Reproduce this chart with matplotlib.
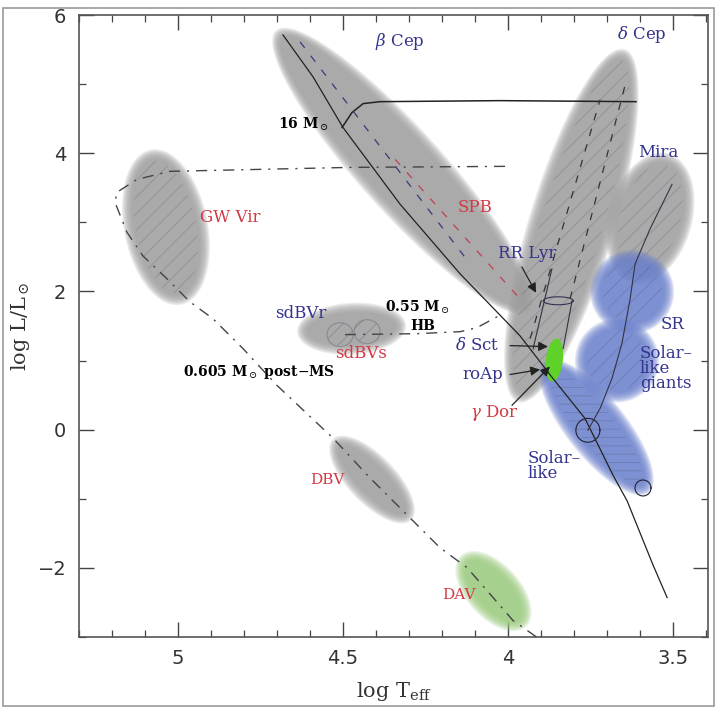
import numpy as np
import matplotlib
matplotlib.use('Agg')
import matplotlib.pyplot as plt
from matplotlib.patches import Polygon, Rectangle

plt.rcParams['mathtext.fontset'] = 'dejavuserif'
plt.rcParams['hatch.linewidth'] = 0.6

# ---------------- data (log Teff, log L/Lsun) ----------------
# pulsator regions: end points of the major axis
region_names = ['beta Cep/SPB', 'Cepheid strip', 'Mira', 'GW Vir', 'sdBV', 'DBV',
                'SR', 'Solar-like giants', 'Solar-like', 'DAV', 'roAp']
region_logT1 = [4.691, 3.964, 3.621, 5.079, 4.621, 4.518, 3.733, 3.779, 3.879, 4.130, 3.852]
region_logL1 = [5.712, 0.481, 2.210, 3.968, 1.418, -0.196, 1.994, 1.000, 0.914, -1.882, 1.317]
region_logT2 = [3.948, 3.652, 3.518, 4.994, 4.327, 4.306, 3.515, 3.561, 3.585, 3.958, 3.867]
region_logL2 = [1.778, 5.424, 3.911, 1.893, 1.504, -1.248, 1.994, 1.000, -0.844, -2.790, 0.697]

# main sequence / lower MS
zams_logT = [4.682, 4.591, 4.500, 4.327, 4.145, 3.964, 3.864, 3.767, 3.682, 3.639, 3.561, 3.518]
zams_logL = [5.712, 5.107, 4.372, 3.262, 2.254, 1.360, 0.741, 0.164, -0.657, -1.032, -1.954, -2.429]

# 16 Msun track
track16_logT = [4.503, 4.473, 4.439, 4.388, 4.024, 3.612]
track16_logL = [4.372, 4.588, 4.718, 4.746, 4.761, 4.746]

# 0.605 Msun post-MS track
postms_logT = [4.009, 4.479, 5.024, 5.124, 5.185, 5.191, 5.155, 5.106, 5.033, 4.964,
               4.894, 4.803, 4.700, 4.530, 4.418, 4.306, 4.206, 4.124, 3.985, 3.912]
postms_logL = [3.810, 3.795, 3.738, 3.622, 3.435, 3.291, 2.859, 2.513, 2.182, 1.850,
               1.605, 1.173, 0.640, -0.124, -0.700, -1.233, -1.709, -1.997, -2.761, -3.006]

# 0.55 Msun HB track
hb_logT = [4.494, 4.276, 4.145, 4.094, 4.033]
hb_logL = [1.375, 1.389, 1.418, 1.476, 1.634]

# red giant branch track
rgb_logT = [3.758, 3.721, 3.685, 3.655, 3.630, 3.615, 3.570, 3.503]
rgb_logL = [-0.009, 0.308, 0.741, 1.245, 1.893, 2.398, 2.902, 3.550]

# dashed tracks inside the regions
cep_dash1_logT = [3.933, 3.721]; cep_dash1_logL = [1.317, 4.775]
cep_dash2_logT = [3.812, 3.645]; cep_dash2_logL = [1.893, 4.991]
bcep_dash_logT = [4.630, 4.115]; bcep_dash_logL = [5.611, 2.398]
spb_dash_logT = [4.342, 3.964];  spb_dash_logL = [3.911, 1.893]
rr_left_logT = [3.867, 3.924];   rr_left_logL = [2.326, 1.173]
rr_right_logT = [3.806, 3.833];  rr_right_logL = [1.865, 1.173]

# labels
label_texts = [r'$\beta$ Cep', r'$\delta$ Cep', r'16 M$_\odot$', 'Mira', 'GW Vir', 'SPB',
               'RR Lyr', 'sdBVr', r'0.55 M$_\odot$', 'HB', 'SR', 'sdBVs', r'$\delta$ Sct',
               r'0.605 M$_\odot$ post$-$MS', 'roAp', 'Solar\u2013\nlike\ngiants',
               r'$\gamma$ Dor', 'Solar\u2013\nlike', 'DBV', 'DAV']
label_logT = [4.403, 3.670, 4.697, 3.606, 4.933, 4.152, 4.030, 4.706, 4.373, 4.297,
              3.539, 4.524, 4.161, 4.985, 4.139, 3.600, 4.115, 3.942, 4.600, 4.200]
label_logL = [5.611, 5.712, 4.415, 4.012, 3.075, 3.219, 2.542, 1.677, 1.775, 1.500,
              1.519, 1.101, 1.216, 0.841, 0.798, 0.885, 0.236, -0.527, -0.729, -2.386]

# arrows (tail -> head)
arrow_tail_logT = [3.958, 3.994, 3.994, 3.988]
arrow_tail_logL = [2.354, 1.216, 0.798, 0.352]
arrow_head_logT = [3.915, 3.879, 3.903, 3.873]
arrow_head_logL = [1.980, 1.202, 0.870, 0.914]

# ---------------- styling ----------------
BLUE_T = '#34348f'
RED_T = '#d23a45'
GRAY = '#9e9e9e'
BLUEF = '#6a80cc'
region_width_px = [72, 74, 72, 72, 40, 36, 72, 72, 48, 42, 17]
region_colors = [GRAY, GRAY, GRAY, GRAY, GRAY, GRAY, BLUEF, BLUEF, BLUEF, '#9acb7e', '#5fd22a']
region_hatch = [None, '//', '//', '//', None, None, '//', '//', '--', None, None]
region_blur = [True] * 10 + [False]
label_colors = [BLUE_T, BLUE_T, 'black', BLUE_T, RED_T, RED_T, BLUE_T, BLUE_T, 'black', 'black',
                BLUE_T, RED_T, BLUE_T, 'black', BLUE_T, BLUE_T, RED_T, BLUE_T, RED_T, RED_T]
label_sizes = [12, 12, 10, 12, 12, 12, 12, 12, 10, 10, 12, 12, 12, 10, 12, 12, 12, 12, 11, 11]

fig = plt.figure(figsize=(7.18, 7.08), dpi=100)
ax = fig.add_axes([0.110, 0.1003, 0.8761, 0.8785])
ax.set_xlim(5.30, 3.394)
ax.set_ylim(-2.96, 6.0)


def ellipse_pts(p1, p2, width_px, margin=0.0, n=160):
    P = ax.transData.transform(np.array([p1, p2]))
    c = P.mean(axis=0)
    d = P[1] - P[0]
    L = np.hypot(*d)
    u = d / L
    v = np.array([-u[1], u[0]])
    t = np.linspace(0, 2 * np.pi, n)
    a = L / 2 + margin
    b = width_px / 2 + margin
    pts = c + np.outer(np.cos(t) * a, u) + np.outer(np.sin(t) * b, v)
    return ax.transData.inverted().transform(pts)


for i in range(len(region_names)):
    p1 = (region_logT1[i], region_logL1[i])
    p2 = (region_logT2[i], region_logL2[i])
    w = region_width_px[i]
    col = region_colors[i]
    z = 1 if col == GRAY else 2
    if region_blur[i]:
        for m in np.linspace(6, -4, 9):
            ax.add_patch(Polygon(ellipse_pts(p1, p2, w, m), closed=True,
                                 facecolor=col, edgecolor='none', alpha=0.2, zorder=z))
    else:
        ax.add_patch(Polygon(ellipse_pts(p1, p2, w), closed=True,
                             facecolor=col, edgecolor='none', zorder=4))
    if region_hatch[i]:
        ax.add_patch(Polygon(ellipse_pts(p1, p2, w, -6), closed=True, facecolor='none',
                             edgecolor=(0.25, 0.25, 0.35, 0.25), lw=0,
                             hatch=region_hatch[i], zorder=z))

# small sub-regions in sdBV box
for c_t, c_l in [(4.509, 1.375), (4.427, 1.418)]:
    P = ax.transData.transform([(c_t, c_l)])[0]
    t = np.linspace(0, 2 * np.pi, 80)
    pts = ax.transData.inverted().transform(np.c_[P[0] + 13 * np.cos(t), P[1] + 12 * np.sin(t)])
    ax.add_patch(Polygon(pts, closed=True, facecolor='none', edgecolor=(0.3, 0.3, 0.4, 0.35),
                         lw=0.8, hatch='//', zorder=2))

# small circles at the base of the red giant branch
for c_t, c_l, r in [(3.758, -0.009, 12), (3.591, -0.844, 8)]:
    P = ax.transData.transform([(c_t, c_l)])[0]
    t = np.linspace(0, 2 * np.pi, 80)
    pts = ax.transData.inverted().transform(np.c_[P[0] + r * np.cos(t), P[1] + r * np.sin(t)])
    ax.plot(pts[:, 0], pts[:, 1], color='#222233', lw=0.8, zorder=5)

# RR Lyr cylinder top
P = ax.transData.transform([(3.848, 1.865)])[0]
t = np.linspace(0, 2 * np.pi, 80)
pts = ax.transData.inverted().transform(np.c_[P[0] + 15 * np.cos(t), P[1] + 4 * np.sin(t)])
ax.plot(pts[:, 0], pts[:, 1], color='#333355', lw=0.8, zorder=5)

# lines
ax.plot(zams_logT, zams_logL, color='#222222', lw=0.9, zorder=5)
ax.plot(track16_logT, track16_logL, color='#222222', lw=1.1, zorder=5)
ax.plot(rgb_logT, rgb_logL, color='#333344', lw=0.8, zorder=5)
ax.plot(postms_logT, postms_logL, color='#444444', lw=1.0, ls=(0, (8, 5, 1.5, 5)), zorder=5)
ax.plot(hb_logT, hb_logL, color='#444444', lw=1.0, ls=(0, (8, 5, 1.5, 5)), zorder=5)
ax.plot(cep_dash1_logT, cep_dash1_logL, color='#333333', lw=0.9, ls=(0, (6, 7)), zorder=5)
ax.plot(cep_dash2_logT, cep_dash2_logL, color='#333333', lw=0.9, ls=(0, (6, 7)), zorder=5)
ax.plot(bcep_dash_logT, bcep_dash_logL, color='#3a3a7a', lw=0.9, ls=(0, (6, 8)), zorder=5)
ax.plot(spb_dash_logT, spb_dash_logL, color='#c04050', lw=0.9, ls=(0, (6, 8)), zorder=5)
ax.plot(rr_left_logT, rr_left_logL, color='#333344', lw=0.8, zorder=5)
ax.plot(rr_right_logT, rr_right_logL, color='#333344', lw=0.8, zorder=5)

for i in range(len(arrow_tail_logT)):
    ax.annotate('', xy=(arrow_head_logT[i], arrow_head_logL[i]),
                xytext=(arrow_tail_logT[i], arrow_tail_logL[i]),
                arrowprops=dict(arrowstyle='-|>', color='#222222', lw=0.9,
                                mutation_scale=14, shrinkA=0, shrinkB=0), zorder=6)

for txt, xt, yl, c, s in zip(label_texts, label_logT, label_logL, label_colors, label_sizes):
    fw = 'bold' if c == 'black' else 'normal'
    ax.text(xt, yl, txt, color=c, fontsize=s, family='DejaVu Serif', ha='left', va='center',
            linespacing=0.85, fontweight=fw, zorder=7)

# axes styling
ax.set_xticks([5, 4.5, 4, 3.5])
ax.set_xticklabels(['5', '4.5', '4', '3.5'])
ax.set_xticks(np.arange(3.4, 5.31, 0.1), minor=True)
ax.set_yticks([-2, 0, 2, 4, 6])
ax.set_yticklabels(['\u22122', '0', '2', '4', '6'])
ax.set_yticks(np.arange(-3, 6.1, 1), minor=True)
ax.tick_params(which='both', direction='in', top=True, right=True, colors='#444444',
               labelcolor='#333333', labelsize=14)
ax.tick_params(which='major', length=11, width=1.0, pad=9)
ax.tick_params(which='minor', length=5, width=0.9)
for sp in ax.spines.values():
    sp.set_color('#555555')
    sp.set_linewidth(1.2)

ax.set_xlabel(r'log T$_{\rm eff}$', fontsize=15, family='DejaVu Serif', color='#333333', labelpad=8)
ax.set_ylabel(r'log L/L$_\odot$', fontsize=15, family='DejaVu Serif', color='#333333', labelpad=4)

# outer frame of the screenshot
fig.add_artist(Rectangle((0.004, 0.003), 0.99, 0.985, transform=fig.transFigure,
                         fill=False, edgecolor='#999999', lw=1.2))

fig.savefig('out.png', dpi=100)
